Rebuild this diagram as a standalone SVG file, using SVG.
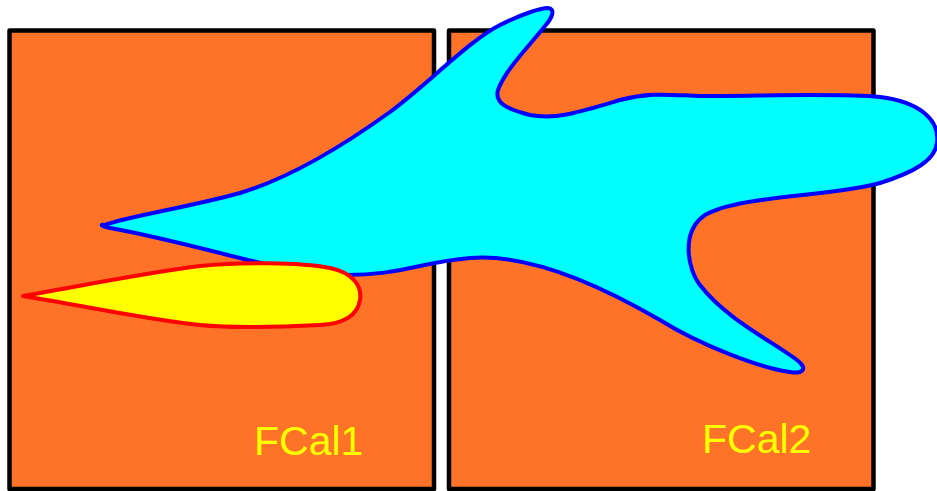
<svg xmlns="http://www.w3.org/2000/svg" width="937" height="491" viewBox="0 0 937 491">
<style>
.box{fill:#FF7328;stroke:#000;stroke-width:4.5;stroke-linejoin:round}
.lbl{fill:#FFFF00;font-family:"Liberation Sans",Arial,sans-serif;font-size:41px}
</style>
<rect width="937" height="491" fill="#fff"/>
<g id="fcal1">
<rect class="box" x="9.5" y="30.5" width="424.5" height="458.5"/>
<text class="lbl" x="254" y="455">FCal1</text>
</g>
<g id="fcal2">
<rect class="box" x="449" y="30.5" width="424.5" height="458.5"/>
<text class="lbl" x="702" y="453">FCal2</text>
</g>
<g id="cyan-shape">
<path fill="#00FFFF" stroke="#0000FF" stroke-width="4" stroke-linejoin="round" d="M105,225 C120,218 190,207 240,193 C290,178 340,148 390,112 C430,82 470,40 500,25 C520,15 540,8 548,8 C556,9 552,18 545,26 C530,45 505,70 498,90 C494,104 510,110 530,115 C555,120 580,112 620,100 C650,92 670,95 700,96 C760,96 840,93 880,97 C920,102 940,120 937,143 C935,160 915,172 880,183 C830,197 740,195 705,215 C680,232 688,270 700,285 C725,318 770,340 797,360 C810,370 800,374 790,372 C760,368 700,345 660,320 C600,285 530,253 470,258 C420,262 400,276 340,275 C300,274 270,265 240,258 C200,248 150,235 110,228 C100,226 100,224 105,225 Z"/>
</g>
<g id="yellow-shape">
<path fill="#FFFF00" stroke="#FF0000" stroke-width="4" stroke-linejoin="round" d="M23,296 C80,286 150,272 200,266 C240,262 300,262 330,268 C355,273 362,288 360,300 C357,318 340,324 320,325 C280,327 230,328 200,325 C150,320 80,305 23,296 Z"/>
</g>
<g id="connectors"></g>
</svg>
